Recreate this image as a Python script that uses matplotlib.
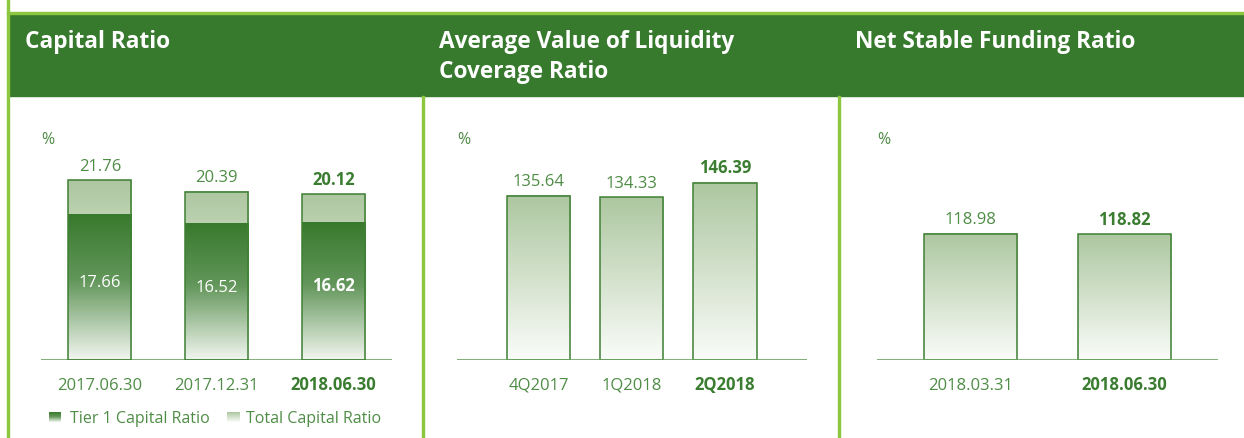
import numpy as np
import matplotlib
matplotlib.use("Agg")
import matplotlib.pyplot as plt
from matplotlib.colors import LinearSegmentedColormap
from matplotlib.patches import Rectangle

# ---------------- data ----------------
cap_dates = ["2017.06.30", "2017.12.31", "2018.06.30"]
tier1_ratio = [17.66, 16.52, 16.62]
total_ratio = [21.76, 20.39, 20.12]

lcr_quarters = ["4Q2017", "1Q2018", "2Q2018"]
lcr_values = [135.64, 134.33, 146.39]

nsfr_dates = ["2018.03.31", "2018.06.30"]
nsfr_values = [118.98, 118.82]

titles = [["Capital Ratio"], ["Average Value of Liquidity", "Coverage Ratio"], ["Net Stable Funding Ratio"]]
legend_labels = ["Tier 1 Capital Ratio", "Total Capital Ratio"]

# ---------------- style ----------------
W, H = 1244, 438
HEADER = "#377A2E"
LIGHT = "#8DC63F"
EDGE = "#3E8034"
TXT = "#4F8C46"
TXT_B = "#3A7D30"
BASE = "#6AA25F"
FONT = "Open Sans"
plt.rcParams["font.family"] = [FONT, "DejaVu Sans"]

cm_tier = LinearSegmentedColormap.from_list("tier", [(0, "#387A2D"), (0.45, "#62965A"), (1, "#F2F6F0")])
cm_total = LinearSegmentedColormap.from_list("total", [(0, "#ADC7A0"), (1, "#FAFCF9")])
grad = np.linspace(0, 1, 256).reshape(-1, 1)

fig = plt.figure(figsize=(W / 100, H / 100), dpi=100)


def fx(px):
    return px / W


def fy(py):
    return 1 - py / H


# frame: header band, lines
fig.patches.append(Rectangle((fx(8), fy(96)), fx(1244) - fx(8), fy(14) - fy(96),
                             transform=fig.transFigure, color=HEADER, zorder=0))
fig.patches.append(Rectangle((fx(7), fy(14)), fx(1244) - fx(7), fy(12) - fy(14),
                             transform=fig.transFigure, color=LIGHT, zorder=1))
for x0, y0 in [(7, 0), (422, 96), (838, 96)]:
    fig.patches.append(Rectangle((fx(x0), fy(438)), fx(2), fy(y0) - fy(438),
                                 transform=fig.transFigure, color=LIGHT, zorder=1))

# titles
title_x = [25, 439, 855]
for tx, lines in zip(title_x, titles):
    for i, line in enumerate(lines):
        fig.text(fx(tx), fy(48.5 + 29 * i), line, color="white", fontsize=16.3,
                 fontweight="bold", va="baseline", ha="left")


def make_ax(x0, x1):
    ax = fig.add_axes([fx(x0), fy(360), fx(x1) - fx(x0), (360 - 100) / H])
    ax.axis("off")
    ax.axhline(0, color=BASE, lw=1.2, zorder=5)
    fig.text(fx(x0), fy(144), "%", color=TXT, fontsize=11.5, va="baseline", ha="left")
    return ax


def grad_bar(ax, x, h, w, cmap, z, edge=True):
    ax.imshow(grad, extent=[x - w / 2, x + w / 2, 0, h], aspect="auto", cmap=cmap,
              zorder=z, interpolation="bilinear")
    if edge:
        ax.add_patch(Rectangle((x - w / 2, 0), w, h, fill=False, ec=EDGE, lw=1.1, zorder=z + 2))


def label_top(ax, x, v, bold):
    ax.annotate(f"{v:.2f}", (x, v), xytext=(0, 6.8), textcoords="offset points",
                ha="center", va="baseline", fontsize=12,
                color=TXT_B if bold else TXT, fontweight="bold" if bold else "normal")


def label_cat(ax, x, s, bold):
    ax.annotate(s, (x, 0), xytext=(0, -21.6), textcoords="offset points",
                ha="center", va="baseline", fontsize=12,
                color=TXT_B if bold else TXT, fontweight="bold" if bold else "normal")


# ---- panel 1: capital ratio ----
ax1 = make_ax(41, 392)
for i, (d, t1, tot) in enumerate(zip(cap_dates, tier1_ratio, total_ratio)):
    bold = i == len(cap_dates) - 1
    grad_bar(ax1, i, tot, 0.54, cm_total, 2, edge=False)
    grad_bar(ax1, i, t1, 0.54, cm_tier, 3, edge=False)
    ax1.add_patch(Rectangle((i - 0.27, 0), 0.54, tot, fill=False, ec=EDGE, lw=1.1, zorder=6))
    label_top(ax1, i, tot, bold)
    ax1.text(i, t1 / 2, f"{t1:.2f}", ha="center", va="baseline", fontsize=12, color="white",
             fontweight="bold" if bold else "normal", zorder=7)
    label_cat(ax1, i, d, bold)
ax1.set_xlim(-0.504, 2.5)
ax1.set_ylim(0, 260 / 8.25)

# legend for panel 1
for (mx, tx), lab, cm in zip([(49, 70), (227, 246)], legend_labels, [cm_tier, cm_total]):
    lax = fig.add_axes([fx(mx), fy(422), fx(12), (422 - 412) / H])
    lax.imshow(grad, aspect="auto", cmap=cm, extent=[0, 1, 0, 1])
    lax.axis("off")
    fig.text(fx(tx), fy(423), lab, color=TXT, fontsize=11.5, va="baseline", ha="left")

# ---- panel 2: LCR ----
ax2 = make_ax(457, 807)
for i, (q, v) in enumerate(zip(lcr_quarters, lcr_values)):
    bold = i == len(lcr_quarters) - 1
    grad_bar(ax2, i, v, 0.68, cm_total, 2)
    label_top(ax2, i, v, bold)
    label_cat(ax2, i, q, bold)
ax2.set_xlim(-0.876, 2.88)
ax2.set_ylim(0, 260 / 1.21)

# ---- panel 3: NSFR ----
ax3 = make_ax(877, 1218)
for i, (d, v) in enumerate(zip(nsfr_dates, nsfr_values)):
    bold = i == len(nsfr_dates) - 1
    grad_bar(ax3, i, v, 0.604, cm_total, 2)
    label_top(ax3, i, v, bold)
    label_cat(ax3, i, d, bold)
ax3.set_xlim(-0.607, 1.607)
ax3.set_ylim(0, 260 / 1.06)

fig.savefig("out.png", dpi=100)
